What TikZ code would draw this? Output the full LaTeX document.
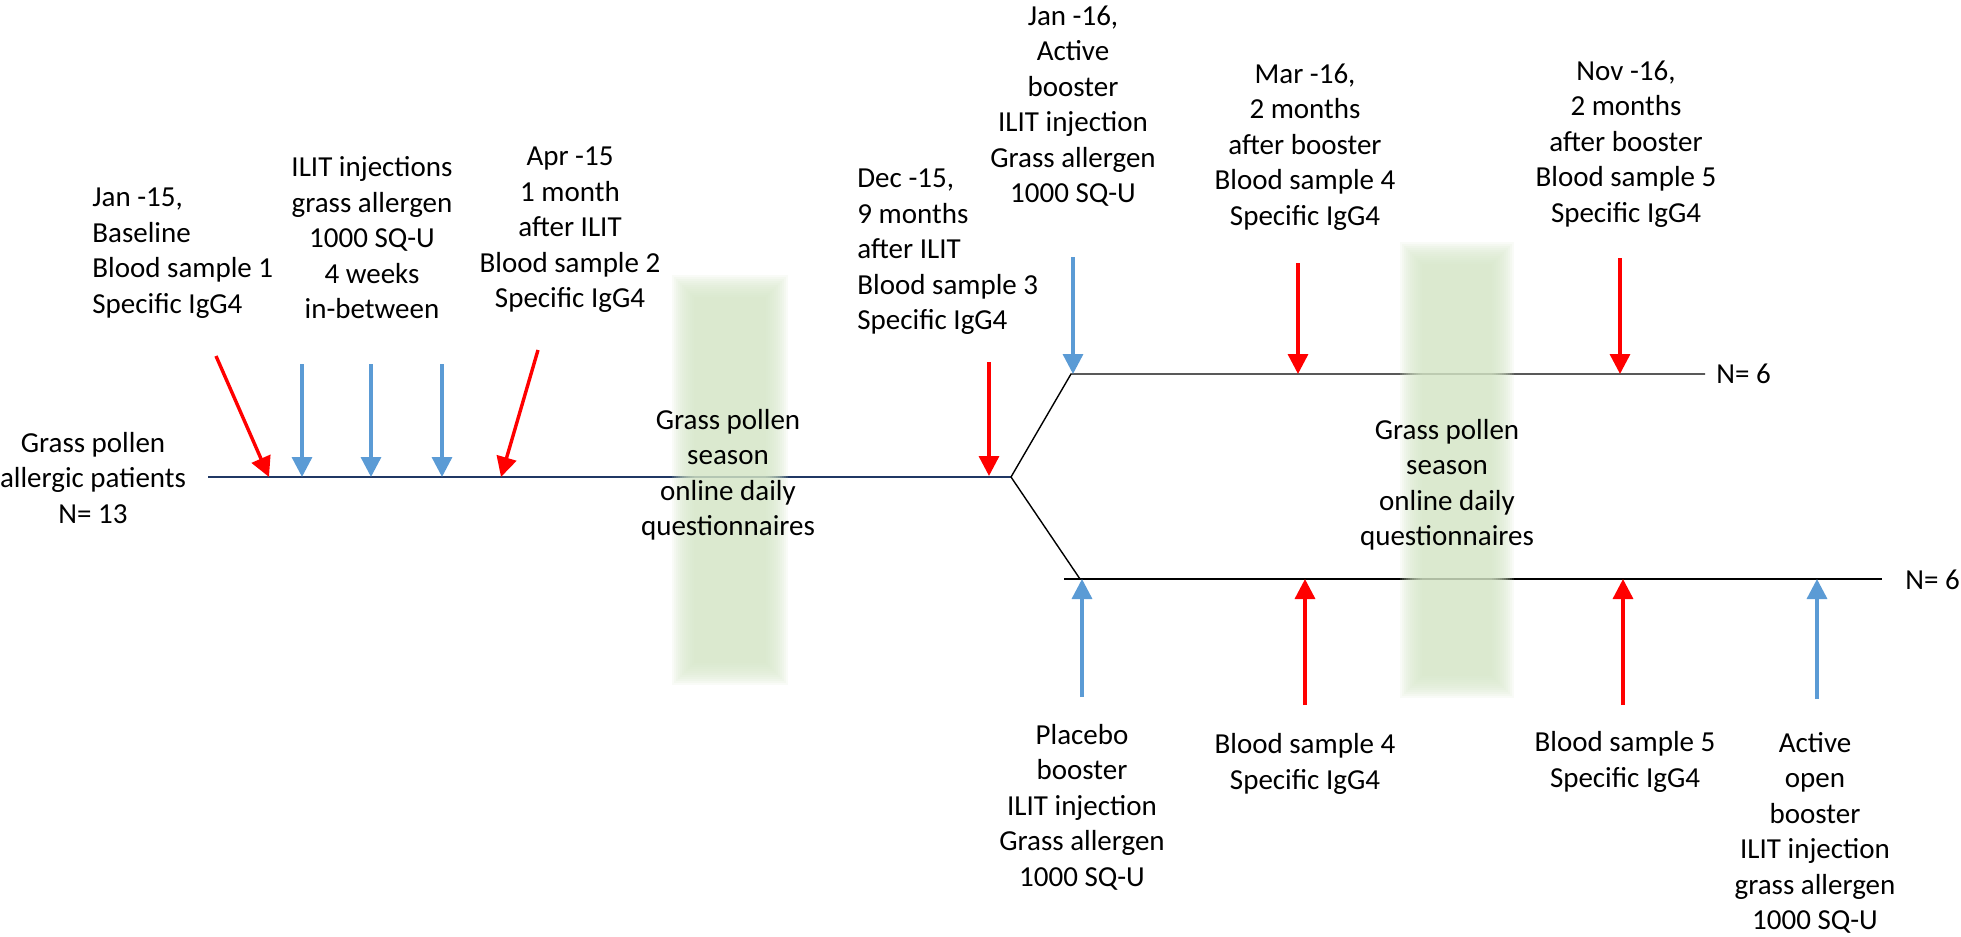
\documentclass[tikz,border=0pt]{standalone}
\usepackage{fontspec}
\setmainfont{Carlito}
\usetikzlibrary{arrows.meta}
\definecolor{bloodred}{RGB}{255,0,0}
\definecolor{shotblue}{RGB}{91,155,213}
\definecolor{timenavy}{RGB}{32,56,100}
\definecolor{seasongreen}{RGB}{212,229,198}
\tikzstyle{note} = [align=center, inner sep=0pt,
font=\fontsize{14.5}{17.75}\selectfont]
\tikzstyle{noteleft} = [note, align=left, anchor=west]
\tikzstyle{blood} = [line width=1.7pt, draw=bloodred,
-{Triangle[length=10pt,width=10pt]}]
\tikzstyle{shot} = [line width=1.7pt, draw=shotblue,
-{Triangle[length=10pt,width=10pt]}]
\tikzstyle{timeline} = [line width=1pt, draw=timenavy]
\tikzstyle{branch} = [line width=0.7pt, draw=black]
\newcommand{\seasonbar}[4]{%
  \foreach \k in {0,...,11}
    \fill[seasongreen, fill opacity=0.14]
      ({#1-12+2*\k},{#2-12+2*\k}) rectangle ({#3+12-2*\k},{#4+12-2*\k});}

\begin{document}
\begin{tikzpicture}[x=0.5pt, y=-0.5pt]
                \useasboundingbox (0,0) rectangle (1961,937);

                \coordinate (fork) at (1011,477);
                \coordinate (mainStart) at (208,477);
                \coordinate (upperStart) at (1071,374);
                \coordinate (upperEnd) at (1705,374);
                \coordinate (lowerEnd) at (1080,579);
                \coordinate (lowerStart) at (1064,579);
                \coordinate (lowerStop) at (1882,579);

                \draw [timeline] (mainStart) -- (fork);
                \draw [branch] (fork) -- (upperStart) -- (upperEnd);
                \draw [branch] (fork) -- (lowerEnd);
                \draw [branch] (lowerStart) -- (lowerStop);

                \seasonbar{684}{287}{776}{673}
                \seasonbar{1412}{254}{1502}{686}

                \node (patients) [note] at (93,478) {Grass pollen\\allergic patients\\N= 13};
                \node (baseline) [noteleft] at (92,253) {Jan -15,\\Baseline\\Blood sample 1\\Specific IgG4};
                \node (injections) [note] at (372,238) {ILIT injections\\grass allergen\\1000 SQ-U\\4 weeks\\in-between};
                \node (aprSample) [note] at (570,230) {Apr -15\\1 month\\after ILIT\\Blood sample 2\\Specific IgG4};
                \node (seasonOne) [note] at (728,475) {Grass pollen\\season\\online daily\\questionnaires};
                \node (decSample) [noteleft] at (857,252) {Dec -15,\\9 months\\after ILIT\\Blood sample 3\\Specific IgG4};
                \node (activeBooster) [note] at (1073,106) {Jan -16,\\Active\\booster\\ILIT injection\\Grass allergen\\1000 SQ-U};
                \node (marSample) [note] at (1305,147) {Mar -16,\\2 months\\after booster\\Blood sample 4\\Specific IgG4};
                \node (novSample) [note] at (1626,144) {Nov -16,\\2 months\\after booster\\Blood sample 5\\Specific IgG4};
                \node (seasonTwo) [note] at (1447,485) {Grass pollen\\season\\online daily\\questionnaires};
                \node (placeboBooster) [note] at (1082,807) {Placebo\\booster\\ILIT injection\\Grass allergen\\1000 SQ-U};
                \node (sampleFour) [note] at (1305,764) {Blood sample 4\\Specific IgG4};
                \node (sampleFive) [note] at (1625,762) {Blood sample 5\\Specific IgG4};
                \node (openBooster) [note] at (1815,833) {Active\\open\\booster\\ILIT injection\\grass allergen\\1000 SQ-U};
                \node (nActive) [noteleft] at (1716,374) {N= 6};
                \node (nPlacebo) [noteleft] at (1905,580) {N= 6};

                \draw [blood] (216,356) -- (269,477);
                \draw [shot] (302,364) -- (302,477);
                \draw [shot] (371,364) -- (371,477);
                \draw [shot] (442,364) -- (442,477);
                \draw [blood] (538,350) -- (501,477);
                \draw [blood] (989,362) -- (989,476);

                \draw [shot] (1073,257) -- (upperStart -| 1073,0);
                \draw [blood] (1298,263) -- (1298,374);
                \draw [blood] (1620,258) -- (1620,374);

                \draw [shot] (1082,697) -- (1082,579);
                \draw [blood] (1305,705) -- (1305,579);
                \draw [blood] (1623,705) -- (1623,579);
                \draw [shot] (1817,699) -- (1817,579);
            \end{tikzpicture}
\end{document}
